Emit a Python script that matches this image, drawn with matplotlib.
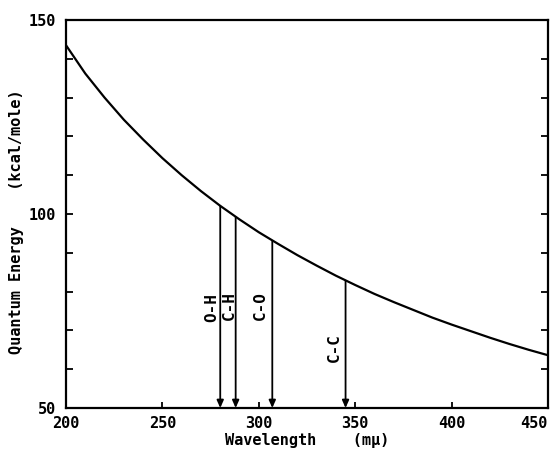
"""Quantum energy of light versus wavelength, with bond-energy markers."""

import matplotlib

matplotlib.use("Agg")
import matplotlib.pyplot as plt
from matplotlib.ticker import MultipleLocator

# curve (kcal/mole at each wavelength, m-mu)
wavelength = [200, 210, 220, 230, 240, 250, 260, 270, 280, 290, 300, 310, 320,
              330, 340, 350, 360, 370, 380, 390, 400, 410, 420, 430, 440, 450]
energy = [143.5, 136.2, 130.0, 124.3, 119.2, 114.4, 110.0, 105.9, 102.1, 98.6,
          95.3, 92.3, 89.4, 86.7, 84.1, 81.7, 79.4, 77.3, 75.3, 73.3, 71.5,
          69.8, 68.1, 66.5, 65.0, 63.6]

# bond markers: label, wavelength, energy where the arrow starts
bond_labels = ["O-H", "C-H", "C-O", "C-C"]
bond_wavelength = [280, 288, 307, 345]
bond_energy = [102.1, 99.2, 93.1, 82.8]

# where the rotated labels sit (data units)
label_x = [275.4, 284.6, 300.8, 339.0]
label_y = [75.8, 76.3, 76.3, 65.5]

FONT = "DejaVu Sans Mono"

fig = plt.figure(figsize=(5.59, 4.63), dpi=100)
ax = fig.add_axes([66 / 559, 1 - 408 / 463, (548 - 66) / 559, (408 - 20) / 463])

ax.plot(wavelength, energy, color="black", lw=1.6)

for lab, wl, en, lx, ly in zip(bond_labels, bond_wavelength, bond_energy,
                               label_x, label_y):
    ax.annotate(
        "", xy=(wl, 50), xytext=(wl, en),
        arrowprops=dict(arrowstyle="-|>,head_length=0.45,head_width=0.2",
                        color="black", lw=1.3, shrinkA=0, shrinkB=0),
    )
    ax.text(lx, ly, lab, rotation=90, ha="center", va="center",
            family=FONT, fontweight="bold", fontsize=11.5)

ax.set_xlim(200, 450)
ax.set_ylim(50, 150)
ax.set_xticks([200, 250, 300, 350, 400, 450])
ax.set_yticks([50, 100, 150])
ax.yaxis.set_minor_locator(MultipleLocator(10))

ax.tick_params(axis="both", which="both", direction="in", top=False,
               right=True, width=1.3)
ax.tick_params(axis="y", which="both", length=5)
ax.tick_params(axis="x", which="major", length=4, pad=6)
ax.tick_params(axis="y", which="major", pad=7)
for t in ax.get_xticklabels() + ax.get_yticklabels():
    t.set_family(FONT)
    t.set_fontweight("bold")
    t.set_fontsize(11)
ax.get_xticklabels()[-1].set_horizontalalignment("right")
for s in ax.spines.values():
    s.set_linewidth(1.6)

ax.set_xlabel("Wavelength    (m\u03bc)", family=FONT, fontweight="bold",
              fontsize=11, labelpad=1)
ax.set_ylabel("Quantum Energy    (kcal/mole)", family=FONT, fontweight="bold",
              fontsize=11)
ax.yaxis.set_label_coords(-0.087, 0.479)

fig.savefig("out.png", dpi=100)
